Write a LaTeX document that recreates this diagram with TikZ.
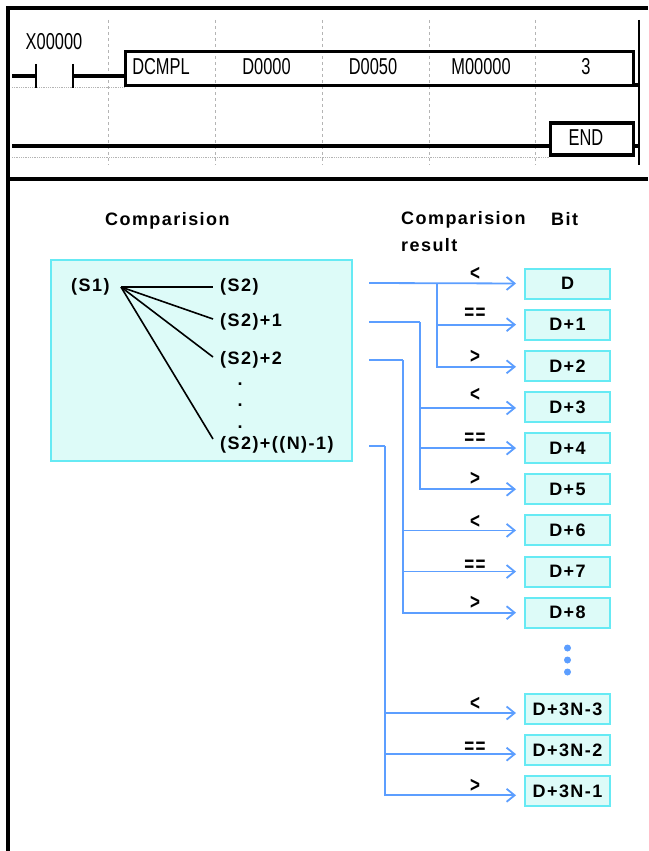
\documentclass[tikz,border=0pt]{standalone}
\usepackage{fontspec}
\setmainfont{Liberation Sans}
\newfontfamily\headfont[LetterSpace=8]{Liberation Sans}
\usetikzlibrary{arrows.meta}
\definecolor{boxfill}{HTML}{DDFBF8}
\definecolor{boxedge}{HTML}{66EAF4}
\definecolor{flowblue}{HTML}{5C9EFF}
\definecolor{gridgrey}{HTML}{B4B4B4}
\tikzset{
  head/.style={font=\headfont\bfseries\fontsize{18}{20}\selectfont, anchor=west, inner sep=0pt},
  bitbox/.style={draw=boxedge, fill=boxfill, line width=2pt, minimum width=85pt, minimum height=30pt, inner sep=0pt, font=\headfont\bfseries\fontsize{18}{20}\selectfont},
  operand/.style={font=\headfont\bfseries\fontsize{18}{20}\selectfont, anchor=west, inner sep=0pt},
  relation/.style={font=\headfont\bfseries\fontsize{20}{22}\selectfont, xscale=.85, yscale=1.1, inner sep=0pt},
  flow/.style={->, flowblue, line width=1.8pt, shorten >=8pt},
  flowline/.style={flowblue, line width=1.8pt},
  ladder/.style={line width=3.4pt},
  instr/.style={font=\fontsize{20}{22}\selectfont, xscale=.82, yscale=1.15, inner sep=0pt},
  gridline/.style={gridgrey, dashed, line width=.6pt},
  railline/.style={gridgrey, densely dotted, line width=.8pt}
}
\begin{document}
\begin{tikzpicture}[>={Straight Barb[length=8pt,width=13pt]}, x=1pt, y=-1pt, node distance=41.15pt]
\useasboundingbox (0,0) rectangle (648,851);
\draw[gridline] (108,20) -- (108,165);
\draw[gridline] (215,20) -- (215,165);
\draw[gridline] (322,20) -- (322,165);
\draw[gridline] (429,20) -- (429,165);
\draw[gridline] (535,20) -- (535,165);
\draw[railline] (12,87) -- (125,87);
\draw[railline] (12,157) -- (550,157);
\draw[line width=4pt] (8,851) -- (8,8.5) -- (648,8.5);
\draw[line width=4pt] (8,178.5) -- (648,178.5);
\draw[line width=2pt] (638.5,20) -- (638.5,165);
\node[draw, ladder, minimum width=508pt, minimum height=34pt, inner sep=0pt] (dcmpl) at (379.5,68.5) {};
\node[draw, ladder, minimum width=83pt, minimum height=32pt, inner sep=0pt] (endbox) at (592,139) {};
\coordinate (rungin) at (12,76);
\coordinate (contactl) at (36,76);
\coordinate (contactr) at (73,76);
\coordinate (rungend) at (12,146);
\draw[ladder] (rungin) -- (contactl);
\draw[ladder] (contactr) -- (dcmpl.west |- contactr);
\draw[line width=2.4pt] (36,64) -- (36,88);
\draw[line width=2.4pt] (73,64) -- (73,88);
\draw[ladder] (rungend) -- (endbox.west |- rungend);
\draw[ladder] (634,85) -- (638,85);
\draw[ladder] (endbox.east) ++(0,7) -- ++(4,0);
\node[instr] (contactname) at (54,42) {X00000};
\node[instr] (opname) at (161,67) {DCMPL};
\node[instr] (opsa) at (266.5,67) {D0000};
\node[instr] (opsb) at (373,67) {D0050};
\node[instr] (opd) at (481,67) {M00000};
\node[instr] (opn) at (586,67) {3};
\node[instr] (endname) at (586,138) {END};
\node[head] (headcomp) at (105,220.5) {Comparision};
\node[head] (headres) at (401,219.5) {Comparision};
\node[head] (headres2) at (401,245.5) {result};
\node[head] (headbit) at (551,219) {Bit};
\node[draw=boxedge, fill=boxfill, line width=2pt, minimum width=301pt, minimum height=201pt, inner sep=0pt] (compbox) at (201,360) {};
\node[operand] (s1) at (71,287) {(S1)};
\node[operand] (s2a) at (220,287) {(S2)};
\node[operand] (s2b) at (220,322) {(S2)+1};
\node[operand] (s2c) at (220,360) {(S2)+2};
\node[operand] (s2d) at (220,445) {(S2)+((N)-1)};
\node[operand, anchor=base] (dota) at (240,385) {.};
\node[operand, anchor=base] (dotb) at (240,406) {.};
\node[operand, anchor=base] (dotc) at (240,428) {.};
\coordinate (fan) at (121,287);
\draw[line width=1.6pt] (fan) -- ([xshift=-7pt]s2a.west);
\draw[line width=1.6pt] (fan) -- ([xshift=-7pt,yshift=3pt]s2b.west);
\draw[line width=1.6pt] (fan) -- ([xshift=-7pt,yshift=3pt]s2c.west);
\draw[line width=1.6pt] (fan) -- ([xshift=-7pt,yshift=6pt]s2d.west);
\node[bitbox] (d0) at (567.5,283.5) {D};
\node[bitbox, below of=d0] (d1) {D+1};
\node[bitbox, below of=d1] (d2) {D+2};
\node[bitbox, below of=d2] (d3) {D+3};
\node[bitbox, below of=d3] (d4) {D+4};
\node[bitbox, below of=d4] (d5) {D+5};
\node[bitbox, below of=d5] (d6) {D+6};
\node[bitbox, below of=d6] (d7) {D+7};
\node[bitbox, below of=d7] (d8) {D+8};
\node[bitbox] (dn3) at (567.5,709) {D+3N-3};
\node[bitbox, below of=dn3] (dn2) {D+3N-2};
\node[bitbox, below of=dn2] (dn1) {D+3N-1};
\coordinate (outa) at (369,283);
\coordinate (outb) at (369,322);
\coordinate (outc) at (369,360);
\coordinate (outd) at (369,446);
\coordinate (busa) at (437,283);
\coordinate (busb) at (420,322);
\coordinate (busc) at (403,360);
\coordinate (busd) at (385,446);
\draw[flow] (outa) -- (d0.west);
\draw[flow] (busa) |- (d1.west);
\draw[flow] (busa) |- ([yshift=-1pt]d2.west);
\draw[flowline] (outb) -- (busb);
\draw[flow] (busb) |- ([yshift=-1pt]d3.west);
\draw[flow] (busb) |- (d4.west);
\draw[flow] (busb) |- (d5.west);
\draw[flowline] (outc) -- (busc);
\draw[flow] (busc) |- (d6.west);
\draw[flow] (busc) |- (d7.west);
\draw[flow] (busc) |- (d8.west);
\draw[flowline] (outd) -- (busd);
\draw[flow] (busd) |- ([yshift=-4pt]dn3.west);
\draw[flow] (busd) |- ([yshift=-4pt]dn2.west);
\draw[flow] (busd) |- ([yshift=-4pt]dn1.west);
\node[relation] (rela) at (475,274) {<};
\node[relation] (relb) at (475,314) {==};
\node[relation] (relc) at (475,357) {>};
\node[relation] (reld) at (475,395) {<};
\node[relation] (rele) at (475,439) {==};
\node[relation] (relf) at (475,479) {>};
\node[relation] (relg) at (475,522) {<};
\node[relation] (relh) at (475,566) {==};
\node[relation] (reli) at (475,603) {>};
\node[relation] (relj) at (475,704) {<};
\node[relation] (relk) at (475,748) {==};
\node[relation] (rell) at (475,786) {>};
\fill[flowblue] (567.5,648) circle (3.5pt);
\fill[flowblue] (567.5,660) circle (3.5pt);
\fill[flowblue] (567.5,672) circle (3.5pt);
\end{tikzpicture}
\end{document}
